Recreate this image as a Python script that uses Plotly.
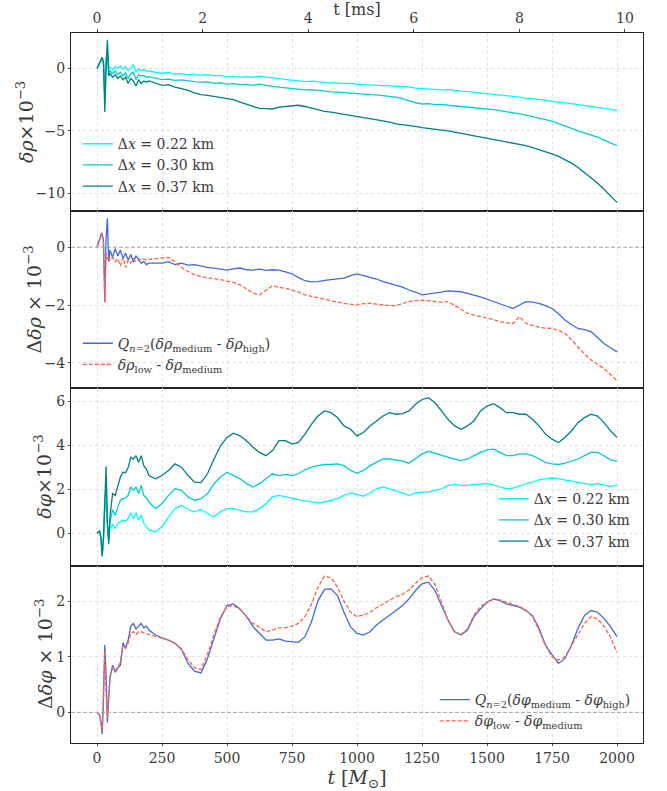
import plotly.graph_objects as go
from plotly.subplots import make_subplots

# ---------------- data ----------------
T_EARLY = [0, 5, 10, 15, 20, 25, 30, 35, 40, 45, 50, 60, 70, 80, 90, 100,
           110, 120, 130, 140, 150, 160, 170, 180, 190, 200]
T_LATE = list(range(225, 2001, 25))
T = T_EARLY + T_LATE
MS_PER_M = 4.925e-3  # 1 M_sun in ms

# Panel 1: delta rho x 1e-3
rho_022 = [0, 0.2, 0.45, 0.7, 0.85, 0.3, -1.5, 0.8, 1.2, 0.0, 0.1, -0.1, 0.15, 0.0, 0.2, -0.05,
           0.15, -0.2, 0.1, 0.3, -0.3, -0.05, -0.15, -0.1, -0.2, -0.2,
           -0.3, -0.38, -0.32, -0.45, -0.42, -0.5, -0.47, -0.55,
           -0.5, -0.6, -0.56, -0.67, -0.62, -0.7, -0.66, -0.72,
           -0.62, -0.7, -0.78, -0.82, -0.88, -0.95, -0.98, -1.05,
           -1.02, -1.1, -1.12, -1.18, -1.15, -1.22, -1.2, -1.27,
           -1.3, -1.35, -1.33, -1.4, -1.42, -1.45, -1.5, -1.48,
           -1.58, -1.62, -1.6, -1.68, -1.72, -1.7, -1.78, -1.82,
           -1.85, -1.9, -1.95, -2.02, -2.05, -2.12, -2.18, -2.22,
           -2.3, -2.38, -2.42, -2.48, -2.55, -2.64, -2.68, -2.75,
           -2.82, -2.9, -2.95, -3.05, -3.12, -3.2, -3.25, -3.37]
rho_030 = [0, 0.22, 0.47, 0.72, 0.88, 0.4, -2.5, 0.5, 1.8, -0.3, -0.2, -0.4, -0.2, -0.5, -0.3, -0.6,
           -0.35, -0.8, -0.4, -0.3, -0.9, -0.5, -0.6, -0.55, -0.7, -0.65,
           -0.8, -0.89, -0.85, -0.95, -0.92, -1.0, -1.05, -1.1,
           -1.08, -1.18, -1.15, -1.25, -1.22, -1.3, -1.28, -1.35,
           -1.25, -1.35, -1.45, -1.5, -1.55, -1.62, -1.65, -1.72,
           -1.7, -1.78, -1.8, -1.88, -1.9, -1.95, -1.98, -2.02,
           -2.05, -2.1, -2.12, -2.18, -2.2, -2.3, -2.42, -2.6,
           -2.75, -2.85, -2.82, -2.9, -2.88, -2.95, -3.0, -3.02,
           -3.08, -3.1, -3.18, -3.23, -3.3, -3.38, -3.45, -3.55,
           -3.65, -3.75, -3.85, -3.98, -4.1, -4.23, -4.4, -4.6,
           -4.8, -5.0, -5.15, -5.3, -5.5, -5.75, -6.0, -6.2]
rho_037 = [0, 0.25, 0.5, 0.75, 0.9, 0.5, -3.5, 0.0, 2.3, -0.6, -0.4, -0.7, -0.5, -0.8, -0.6, -0.9,
           -0.7, -1.2, -0.8, -1.0, -1.4, -0.9, -1.2, -1.0, -1.1, -1.0,
           -1.2, -1.35, -1.3, -1.5, -1.62, -1.75, -1.95, -2.1,
           -2.15, -2.25, -2.3, -2.43, -2.5, -2.7, -2.85, -3.0,
           -3.2, -3.22, -3.25, -3.1, -3.05, -3.0, -2.95, -3.05,
           -3.2, -3.3, -3.45, -3.5, -3.6, -3.7, -3.78, -3.9,
           -3.95, -4.02, -4.1, -4.2, -4.3, -4.45, -4.5, -4.6,
           -4.65, -4.75, -4.8, -4.88, -4.95, -5.0, -5.1, -5.2,
           -5.28, -5.35, -5.45, -5.55, -5.65, -5.78, -5.9, -6.0,
           -6.1, -6.2, -6.35, -6.5, -6.65, -6.85, -7.05, -7.3,
           -7.6, -7.95, -8.35, -8.75, -9.2, -9.7, -10.2, -10.75]

# Panel 2: Delta delta rho x 1e-3
drho_q = [0, 0.15, 0.3, 0.4, 0.45, 0.2, -1.9, 0.3, 1.0, -0.5, -0.1, -0.35, -0.05, -0.3, -0.1, -0.4,
          -0.2, -0.45, -0.25, -0.5, -0.3, -0.45, -0.55, -0.5, -0.6, -0.55,
          -0.55, -0.55, -0.5, -0.6, -0.55, -0.62, -0.6, -0.65,
          -0.7, -0.72, -0.75, -0.79, -0.75, -0.72, -0.78, -0.79,
          -0.76, -0.8, -0.78, -0.79, -0.85, -0.92, -1.05, -1.16,
          -1.2, -1.19, -1.15, -1.13, -1.1, -1.07, -0.98, -0.92,
          -0.98, -1.04, -1.1, -1.19, -1.25, -1.31, -1.38, -1.48,
          -1.55, -1.65, -1.62, -1.6, -1.55, -1.51, -1.52, -1.54,
          -1.6, -1.65, -1.72, -1.8, -1.88, -1.94, -2.02, -2.12,
          -2.0, -1.88, -1.9, -1.94, -2.02, -2.12, -2.3, -2.52,
          -2.68, -2.81, -2.85, -2.92, -3.12, -3.33, -3.48, -3.62]
drho_lm = [0, 0.15, 0.3, 0.45, 0.5, 0.1, -1.9, -0.2, -0.4, -0.3, -0.45, -0.35, -0.5, -0.4, -0.65, -0.35,
           -0.7, -0.45, -0.55, -0.4, -0.5, -0.45, -0.4, -0.4, -0.45, -0.42,
           -0.4, -0.38, -0.35, -0.5, -0.7, -0.84, -0.95, -1.02,
           -1.05, -1.1, -1.12, -1.17, -1.22, -1.3, -1.45, -1.59,
           -1.65, -1.48, -1.33, -1.39, -1.42, -1.48, -1.55, -1.65,
           -1.7, -1.77, -1.8, -1.85, -1.9, -1.94, -1.97, -2.0,
           -1.95, -1.94, -1.97, -2.0, -2.02, -2.02, -1.95, -1.88,
           -1.85, -1.83, -1.85, -1.88, -1.9, -1.88, -2.02, -2.17,
           -2.28, -2.35, -2.4, -2.43, -2.5, -2.58, -2.62, -2.64,
           -2.4, -2.64, -2.7, -2.77, -2.8, -2.81, -2.88, -2.98,
           -3.2, -3.45, -3.7, -3.9, -4.05, -4.2, -4.4, -4.62]

# Panel 3: delta phi x 1e-3
phi_022 = [0, 0.05, 0.1, -0.2, -0.95, -0.2, 1.0, 1.5, 0.3, -0.2, 0.2, 0.4, 0.22, 0.45, 0.52, 0.6,
           0.55, 0.67, 0.93, 0.67, 0.93, 0.6, 0.82, 0.45, 0.3, 0.15,
           0.07, 0.3, 0.75, 1.12, 1.27, 1.08, 0.97, 1.08,
           0.9, 0.75, 0.97, 1.12, 1.12, 1.05, 0.97, 0.97,
           1.12, 1.35, 1.65, 1.72, 1.65, 1.57, 1.53, 1.47,
           1.42, 1.38, 1.42, 1.5, 1.57, 1.72, 1.83, 1.77,
           1.68, 1.83, 2.02, 2.1, 2.02, 1.92, 1.83, 1.72,
           1.83, 1.87, 1.87, 1.95, 2.02, 2.17, 2.22, 2.17,
           2.17, 2.22, 2.25, 2.25, 2.2, 2.1, 2.02, 2.05,
           2.16, 2.25, 2.32, 2.43, 2.47, 2.52, 2.47, 2.43,
           2.37, 2.32, 2.25, 2.22, 2.25, 2.2, 2.13, 2.2]
phi_030 = [0, 0.05, 0.1, -0.2, -1.0, -0.2, 1.5, 2.2, 0.4, -0.3, 0.5, 1.07, 0.82, 1.2, 1.5, 1.57,
           1.6, 1.72, 2.1, 1.95, 2.1, 1.8, 2.17, 1.72, 1.6, 1.42,
           1.12, 1.35, 1.72, 2.02, 1.95, 1.65, 1.5, 1.57,
           1.8, 2.25, 2.55, 2.77, 2.62, 2.47, 2.25, 2.1,
           2.25, 2.47, 2.7, 2.62, 2.67, 2.62, 2.7, 2.88,
           3.0, 3.07, 3.12, 3.12, 3.15, 3.07, 2.85, 2.73,
           2.85, 3.07, 3.22, 3.37, 3.37, 3.33, 3.27, 3.18,
           3.37, 3.6, 3.72, 3.63, 3.52, 3.45, 3.37, 3.3,
           3.37, 3.52, 3.67, 3.78, 3.82, 3.67, 3.52, 3.52,
           3.6, 3.6, 3.52, 3.37, 3.22, 3.15, 3.12, 3.18,
           3.27, 3.37, 3.52, 3.67, 3.67, 3.52, 3.33, 3.27]
phi_037 = [0, 0.05, 0.1, -0.2, -1.05, -0.2, 2.0, 3.03, 0.5, -0.5, 0.8, 1.8, 1.72, 2.1, 2.55, 2.77,
           2.75, 3.0, 3.45, 3.37, 3.52, 3.22, 3.52, 3.07, 2.9, 2.62,
           2.47, 2.62, 2.85, 3.15, 3.0, 2.62, 2.32, 2.3,
           2.7, 3.37, 3.97, 4.35, 4.54, 4.42, 4.2, 3.9,
           3.67, 3.52, 3.75, 4.2, 4.2, 4.05, 4.12, 4.5,
           4.95, 5.32, 5.55, 5.47, 5.25, 4.87, 4.72, 4.42,
           4.57, 4.87, 5.1, 5.32, 5.47, 5.4, 5.43, 5.55,
           5.85, 6.07, 6.15, 5.92, 5.55, 5.17, 4.87, 4.72,
           4.87, 5.1, 5.55, 5.77, 5.88, 5.7, 5.47, 5.47,
           5.4, 5.4, 5.17, 4.87, 4.5, 4.27, 4.12, 4.35,
           4.65, 5.02, 5.25, 5.4, 5.32, 5.02, 4.65, 4.35]

# Panel 4: Delta delta phi x 1e-3
dphi_q = [0, -0.02, -0.04, -0.15, -0.39, 0.26, 1.21, 0.68, -0.18, 0.26, 0.62, 0.85, 0.72, 0.8, 0.85, 1.25,
          1.15, 1.3, 1.55, 1.6, 1.5, 1.55, 1.6, 1.52, 1.55, 1.48,
          1.39, 1.34, 1.3, 1.24, 1.13, 0.88, 0.74, 0.71,
          0.97, 1.33, 1.69, 1.92, 1.95, 1.86, 1.72, 1.54,
          1.42, 1.3, 1.3, 1.32, 1.28, 1.27, 1.26, 1.36,
          1.63, 2.01, 2.21, 2.22, 2.1, 1.8, 1.54, 1.42,
          1.39, 1.45, 1.57, 1.66, 1.74, 1.83, 1.92, 2.04,
          2.19, 2.31, 2.34, 2.19, 1.92, 1.66, 1.45, 1.39,
          1.48, 1.72, 1.86, 1.98, 2.04, 2.01, 1.95, 1.92,
          1.89, 1.83, 1.74, 1.51, 1.21, 1.04, 0.88, 0.97,
          1.21, 1.51, 1.74, 1.83, 1.8, 1.69, 1.54, 1.36]
dphi_lm = [0, -0.02, -0.05, -0.2, -0.35, 0.4, 1.1, 0.3, -0.1, 0.3, 0.65, 0.8, 0.75, 0.82, 0.9, 1.2,
           1.15, 1.25, 1.42, 1.45, 1.4, 1.45, 1.45, 1.43, 1.42, 1.4,
           1.37, 1.34, 1.3, 1.24, 1.14, 0.95, 0.8, 0.77,
           1.05, 1.4, 1.72, 1.9, 1.92, 1.85, 1.72, 1.6,
           1.53, 1.45, 1.48, 1.52, 1.52, 1.55, 1.6, 1.72,
           1.95, 2.25, 2.45, 2.42, 2.25, 2.0, 1.8, 1.72,
           1.75, 1.8, 1.88, 1.95, 2.02, 2.08, 2.12, 2.2,
           2.32, 2.42, 2.45, 2.3, 1.98, 1.65, 1.45, 1.4,
           1.5, 1.75, 1.9, 1.98, 2.04, 2.02, 1.98, 1.94,
           1.9, 1.84, 1.72, 1.48, 1.2, 1.0, 0.94, 1.0,
           1.2, 1.42, 1.6, 1.72, 1.68, 1.55, 1.35, 1.08]

RES_LABELS = ["0.22", "0.30", "0.37"]
X_TICKS = [0, 250, 500, 750, 1000, 1250, 1500, 1750, 2000]
MS_TICKS = [0, 2, 4, 6, 8, 10]
Y_TITLES = ["<i>δρ</i>×10<sup>−3</sup>", "Δ<i>δρ</i> × 10<sup>−3</sup>",
            "<i>δφ</i>×10<sup>−3</sup>", "Δ<i>δφ</i> × 10<sup>−3</sup>"]

# ---------------- style ----------------
FONT = "DejaVu Serif"
TXT = "#3a3a3a"
C_HI, C_MED, C_LO = "#00FFFF", "#00CED1", "#008080"
C_BLUE, C_RED = "#4169E1", "#FF6347"
LW = 1.3
TICK_SIZE = 14

fig = make_subplots(rows=4, cols=1, shared_xaxes=True, vertical_spacing=0)

def dx_name(v):
    return "Δ<i>x</i> = " + v + " km"

for row, series, leg in [(1, [rho_022, rho_030, rho_037], "legend"),
                         (3, [phi_022, phi_030, phi_037], "legend3")]:
    for ys, col, lab in zip(series, [C_HI, C_MED, C_LO], RES_LABELS):
        fig.add_trace(go.Scatter(x=T, y=ys, mode="lines", name=dx_name(lab),
                                 line=dict(color=col, width=LW), legend=leg),
                      row=row, col=1)

for row, (q, lm), sym, leg in [(2, (drho_q, drho_lm), "ρ", "legend2"),
                               (4, (dphi_q, dphi_lm), "φ", "legend4")]:
    fig.add_trace(go.Scatter(
        x=T, y=q, mode="lines", legend=leg,
        name="<i>Q</i><sub><i>n</i>=2</sub>(<i>δ" + sym + "</i><sub>medium</sub> - <i>δ" + sym + "</i><sub>high</sub>)",
        line=dict(color=C_BLUE, width=LW)), row=row, col=1)
    fig.add_trace(go.Scatter(
        x=T, y=lm, mode="lines", legend=leg,
        name="<i>δ" + sym + "</i><sub>low</sub> - <i>δ" + sym + "</i><sub>medium</sub>",
        line=dict(color=C_RED, width=LW, dash="4px,2px")), row=row, col=1)
    fig.add_hline(y=0, line=dict(color="#a8a8a8", width=1, dash="4px,2px"), row=row, col=1)

# invisible trace for top (ms) axis
fig.add_trace(go.Scatter(x=[t * MS_PER_M for t in T], y=rho_022, xaxis="x5", yaxis="y",
                         mode="lines", line=dict(width=0), opacity=0,
                         showlegend=False, hoverinfo="skip"))

XR = [-100, 2100]
axis_common = dict(showline=True, linecolor="#222", linewidth=1.3, mirror=True,
                   showgrid=True, gridcolor="#e2e2e2", griddash="dot", gridwidth=1,
                   ticks="outside", ticklen=2, tickcolor="#444", zeroline=False, automargin=False,
                   tickfont=dict(family=FONT, size=TICK_SIZE, color=TXT))

for i in range(1, 5):
    fig.update_xaxes(range=XR, tickvals=X_TICKS, showticklabels=(i == 4), row=i, col=1, **axis_common)

fig.update_xaxes(title=dict(text="<i>t</i> [<i>M</i><sub>⊙</sub>]", font=dict(family=FONT, size=19, color=TXT),
                            standoff=8), row=4, col=1)

fig.update_yaxes(range=[-11.4, 2.85], tickvals=[0, -5, -10], row=1, col=1, **axis_common)
fig.update_yaxes(range=[-4.87, 1.27], tickvals=[0, -2, -4], row=2, col=1, **axis_common)
fig.update_yaxes(range=[-1.46, 6.59], tickvals=[0, 2, 4, 6], row=3, col=1, **axis_common)
fig.update_yaxes(range=[-0.55, 2.64], tickvals=[0, 1, 2], row=4, col=1, **axis_common)

# y-axis titles as rotated annotations (placed like the matplotlib labels)
title_x = [-0.080, -0.066, -0.049, -0.046]
yrefs = ["y domain", "y2 domain", "y3 domain", "y4 domain"]
for txt, xp, yr in zip(Y_TITLES, title_x, yrefs):
    fig.add_annotation(text=txt, textangle=-90, xref="paper", yref=yr, x=xp, y=0.5,
                       xanchor="center", yanchor="middle", showarrow=False,
                       font=dict(family=FONT, size=19, color=TXT))

fig.update_layout(
    xaxis5=dict(overlaying="x", side="top", anchor="y", range=[XR[0] * MS_PER_M, XR[1] * MS_PER_M],
                tickvals=MS_TICKS, ticks="outside", ticklen=3, tickcolor="#444", showgrid=False,
                zeroline=False, showline=False, automargin=False,
                tickfont=dict(family=FONT, size=TICK_SIZE, color=TXT),
                title=dict(text="t [ms]", font=dict(family=FONT, size=16, color=TXT), standoff=0)),
)

leg_common = dict(bgcolor="rgba(255,255,255,0)", borderwidth=0, xref="paper", yref="paper",
                  font=dict(family=FONT, size=14, color=TXT), itemwidth=30, tracegroupgap=0,
                  xanchor="left", yanchor="top")
fig.update_layout(
    legend=dict(x=0.012, y=0.866, **leg_common),
    legend2=dict(x=0.012, y=0.585, **leg_common),
    legend3=dict(x=0.739, y=0.366, **leg_common),
    legend4=dict(x=0.636, y=0.083, **leg_common),
)

fig.update_layout(width=667, height=791, margin=dict(l=71, r=24, t=33, b=48),
                  plot_bgcolor="white", paper_bgcolor="white",
                  font=dict(family=FONT, color=TXT), showlegend=True)

fig.write_html("out.html")
